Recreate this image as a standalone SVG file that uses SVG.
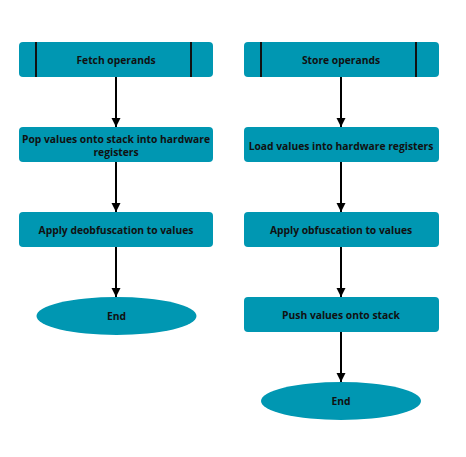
<svg xmlns="http://www.w3.org/2000/svg" width="466" height="457" viewBox="0 0 466 457">
<style>
.box{fill:#0097B2;}
.bar{stroke:#111;stroke-width:2;}
.t{font-family:"Open Sans","Liberation Sans",sans-serif;font-weight:700;font-size:10.3px;fill:#111;text-anchor:middle;dominant-baseline:central;}
.c{stroke:#000;stroke-width:2;fill:none;marker-end:url(#ah);}
</style>
<defs>
<marker id="ah" markerUnits="userSpaceOnUse" markerWidth="10" markerHeight="10" refX="9" refY="5" orient="auto">
<path d="M0,0.5 L9,5 L0,9.5 Z" fill="#000"/>
</marker>
</defs>
<rect width="466" height="457" fill="#fff"/>
<g id="connectors">
<line class="c" x1="116" y1="77" x2="116" y2="127"/>
<line class="c" x1="116" y1="162" x2="116" y2="212"/>
<line class="c" x1="116" y1="247" x2="116" y2="297"/>
<line class="c" x1="341" y1="77" x2="341" y2="127"/>
<line class="c" x1="341" y1="162" x2="341" y2="212"/>
<line class="c" x1="341" y1="247" x2="341" y2="297"/>
<line class="c" x1="341" y1="332" x2="341" y2="382"/>
</g>
<g id="fetch">
<rect class="box" x="19" y="42" width="194" height="35" rx="4"/>
<line class="bar" x1="36" y1="42" x2="36" y2="77"/>
<line class="bar" x1="191" y1="42" x2="191" y2="77"/>
<text class="t" x="116" y="60">Fetch operands</text>
</g>
<g id="pop">
<rect class="box" x="19" y="127" width="194" height="35" rx="4"/>
<text class="t" x="116" y="139">Pop values onto stack into hardware</text>
<text class="t" x="116" y="152">registers</text>
</g>
<g id="deobf">
<rect class="box" x="19" y="212" width="194" height="35" rx="4"/>
<text class="t" x="116" y="230">Apply deobfuscation to values</text>
</g>
<g id="end1">
<ellipse class="box" cx="116.5" cy="316" rx="80" ry="19"/>
<text class="t" x="116.5" y="316">End</text>
</g>
<g id="store">
<rect class="box" x="244" y="42" width="195" height="35" rx="4"/>
<line class="bar" x1="261" y1="42" x2="261" y2="77"/>
<line class="bar" x1="416" y1="42" x2="416" y2="77"/>
<text class="t" x="341" y="60">Store operands</text>
</g>
<g id="load">
<rect class="box" x="244" y="127" width="195" height="35" rx="4"/>
<text class="t" x="341" y="146">Load values into hardware registers</text>
</g>
<g id="obf">
<rect class="box" x="244" y="212" width="195" height="35" rx="4"/>
<text class="t" x="341" y="230">Apply obfuscation to values</text>
</g>
<g id="push">
<rect class="box" x="244" y="297" width="195" height="35" rx="4"/>
<text class="t" x="341" y="315">Push values onto stack</text>
</g>
<g id="end2">
<ellipse class="box" cx="341" cy="401" rx="80" ry="19"/>
<text class="t" x="341" y="401">End</text>
</g>
</svg>
